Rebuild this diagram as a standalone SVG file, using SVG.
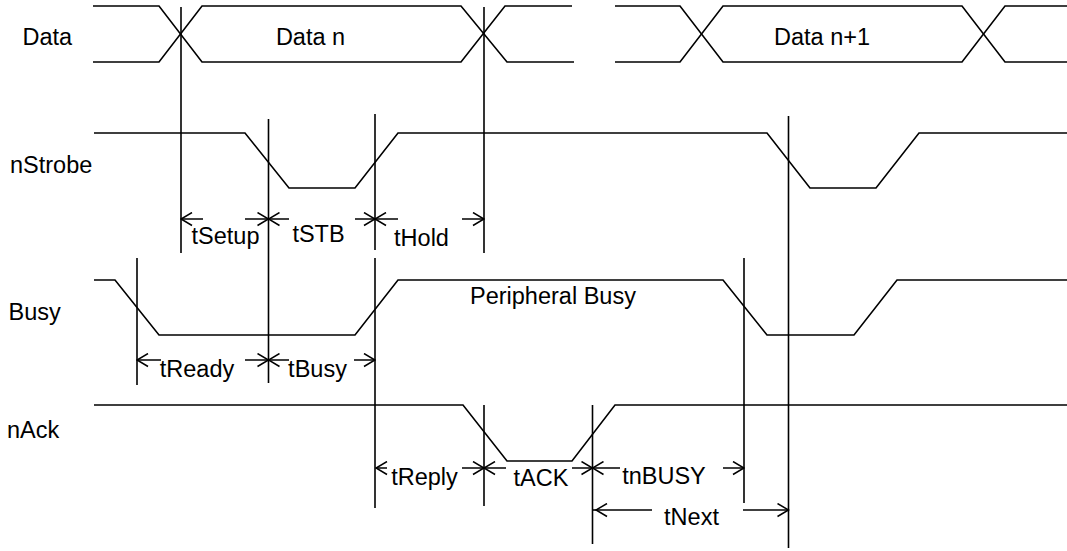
<svg xmlns="http://www.w3.org/2000/svg" width="1067" height="551" viewBox="0 0 1067 551">
<style>
  .sig{fill:none;stroke:#000;stroke-width:1.6;stroke-linejoin:miter}
  .ref{fill:none;stroke:#000;stroke-width:1.6}
  .dim{fill:none;stroke:#000;stroke-width:1.5;marker-end:url(#arr)}
  text{font-family:"Liberation Sans",Arial,sans-serif;font-size:23.5px;fill:#000}
  .c{text-anchor:middle}
</style>
<defs>
  <marker id="arr" markerUnits="userSpaceOnUse" viewBox="0 0 13 15" refX="12" refY="7.5" markerWidth="13" markerHeight="15" orient="auto">
    <path d="M1,1 L12,7.5 L1,14" fill="none" stroke="#000" stroke-width="1.5"/>
  </marker>
</defs>
<rect width="1067" height="551" fill="#fff"/>

<g id="data">
  <text x="22.5" y="45">Data</text>
  <path class="sig" d="M93,6 H159 L202,62 H461 L505,6 H572"/>
  <path class="sig" d="M93,62 H159 L202,6 H461 L507,62 H574"/>
  <path class="sig" d="M615,6 H680 L723,62 H962 L1005,6 H1067"/>
  <path class="sig" d="M615,62 H680 L723,6 H962 L1005,62 H1067"/>
  <text class="c" x="310.5" y="45">Data n</text>
  <text class="c" x="822" y="45">Data n+1</text>
</g>

<g id="nstrobe">
  <text x="10" y="173">nStrobe</text>
  <path class="sig" d="M94,133 H245 L289,188 H355 L398,133 H767 L810,188 H876 L919,133 H1067"/>
</g>

<g id="busy">
  <text x="8.5" y="320">Busy</text>
  <path class="sig" d="M94,280 H115 L159,335 H355 L398,280 H723 L767,335 H854 L897,280 H1067"/>
  <text x="470" y="304">Peripheral Busy</text>
</g>

<g id="nack">
  <text x="7" y="438">nAck</text>
  <path class="sig" d="M94,405 H463 L507,461 H572 L615,405 H1067"/>
</g>

<g id="connectors">
  <!-- reference lines -->
  <line class="ref" x1="181" y1="7" x2="181" y2="253"/>
  <line class="ref" x1="484" y1="7" x2="484" y2="253"/>
  <line class="ref" x1="268.5" y1="119" x2="268.5" y2="383"/>
  <line class="ref" x1="375" y1="114" x2="375" y2="250"/>
  <line class="ref" x1="375" y1="258" x2="375" y2="508"/>
  <line class="ref" x1="137" y1="258" x2="137" y2="385"/>
  <line class="ref" x1="484" y1="405" x2="484" y2="506"/>
  <line class="ref" x1="592.5" y1="405" x2="592.5" y2="544"/>
  <line class="ref" x1="744" y1="258" x2="744" y2="503"/>
  <line class="ref" x1="788.5" y1="116" x2="788.5" y2="548"/>

  <!-- nStrobe timings -->
  <line class="dim" x1="203" y1="219" x2="181" y2="219"/>
  <line class="dim" x1="245" y1="219" x2="268.5" y2="219"/>
  <text class="c" x="225.5" y="244">tSetup</text>
  <line class="dim" x1="289" y1="219" x2="268.5" y2="219"/>
  <line class="dim" x1="355" y1="219" x2="375" y2="219"/>
  <text class="c" x="318.5" y="242">tSTB</text>
  <line class="dim" x1="398" y1="219" x2="375" y2="219"/>
  <line class="dim" x1="462" y1="219" x2="484" y2="219"/>
  <text class="c" x="421.5" y="246">tHold</text>

  <!-- Busy timings -->
  <line class="dim" x1="161" y1="360" x2="137" y2="360"/>
  <line class="dim" x1="245" y1="360" x2="268.5" y2="360"/>
  <text class="c" x="197" y="377">tReady</text>
  <line class="dim" x1="289" y1="360" x2="268.5" y2="360"/>
  <line class="dim" x1="354" y1="360" x2="375" y2="360"/>
  <text class="c" x="317.5" y="377">tBusy</text>

  <!-- nAck timings -->
  <line class="dim" x1="387" y1="468" x2="376" y2="468"/>
  <line class="dim" x1="462" y1="468" x2="484" y2="468"/>
  <text class="c" x="424.5" y="485">tReply</text>
  <line class="dim" x1="506" y1="468" x2="484" y2="468"/>
  <line class="dim" x1="572" y1="468" x2="592.5" y2="468"/>
  <text class="c" x="541" y="486">tACK</text>
  <line class="dim" x1="620" y1="468" x2="592.5" y2="468"/>
  <line class="dim" x1="723" y1="468" x2="744" y2="468"/>
  <text class="c" x="664" y="484">tnBUSY</text>

  <line class="dim" x1="652" y1="510" x2="596" y2="510"/>
  <line class="ref" x1="593" y1="510" x2="597" y2="510"/>
  <line class="dim" x1="743" y1="510" x2="788.5" y2="510"/>
  <text class="c" x="691.5" y="525">tNext</text>
</g>
</svg>
